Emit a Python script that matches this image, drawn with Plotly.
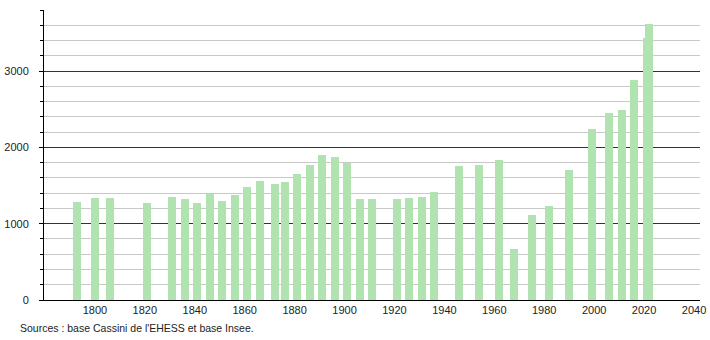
import plotly.graph_objects as go

years = [1793, 1800, 1806, 1821, 1831, 1836, 1841, 1846, 1851, 1856, 1861, 1866,
         1872, 1876, 1881, 1886, 1891, 1896, 1901, 1906, 1911, 1921, 1926, 1931,
         1936, 1946, 1954, 1962, 1968, 1975, 1982, 1990, 1999, 2006, 2011, 2016,
         2021, 2022]
population = [1290, 1340, 1340, 1270, 1350, 1325, 1270, 1390, 1300, 1370, 1480, 1555,
              1525, 1540, 1645, 1770, 1900, 1880, 1800, 1325, 1325, 1330, 1340, 1355,
              1420, 1750, 1775, 1840, 670, 1110, 1235, 1710, 2235, 2450, 2485, 2880,
              3430, 3620]
x_ticks = [1800, 1820, 1840, 1860, 1880, 1900, 1920, 1940, 1960, 1980, 2000, 2020, 2040]
y_ticks = [0, 1000, 2000, 3000]
source_text = "Sources : base Cassini de l'EHESS et base Insee."

fig = go.Figure()
fig.add_trace(go.Bar(
    x=years, y=population, width=3.2,
    marker=dict(color="#b0e3b0", line=dict(width=0)),
    hoverinfo="x+y",
))

fig.update_layout(
    template="none",
    width=710, height=340,
    margin=dict(l=44, r=10, t=10, b=40, autoexpand=False),
    paper_bgcolor="white", plot_bgcolor="white",
    font=dict(family="Liberation Sans, Arial, sans-serif", size=11, color="#222"),
    showlegend=False,
    bargap=0,
    xaxis=dict(
        range=[1779.6, 2042.4],
        tickvals=x_ticks,
        ticktext=[str(v) for v in x_ticks],
        showgrid=False, zeroline=False,
        showline=True, linecolor="#000", linewidth=1,
        ticks="", automargin=False, fixedrange=True,
    ),
    yaxis=dict(
        range=[0, 3800],
        tickvals=y_ticks,
        ticktext=[str(v) for v in y_ticks],
        showgrid=True, gridcolor="#333", gridwidth=1,
        zeroline=False,
        showline=True, linecolor="#000", linewidth=1,
        ticks="outside", ticklen=4, tickcolor="#000",
        ticklabelstandoff=8,
        minor=dict(dtick=200, showgrid=True, gridcolor="#c8c8c8", gridwidth=1,
                   ticks="outside", ticklen=3, tickcolor="#000"),
        automargin=False, fixedrange=True,
    ),
    annotations=[dict(
        text=source_text, xref="paper", yref="paper",
        x=-26 / 656, y=-28 / 290, xanchor="left", yanchor="middle",
        showarrow=False, font=dict(size=10.5, color="#222"),
    )],
)

fig.write_html("out.html")
